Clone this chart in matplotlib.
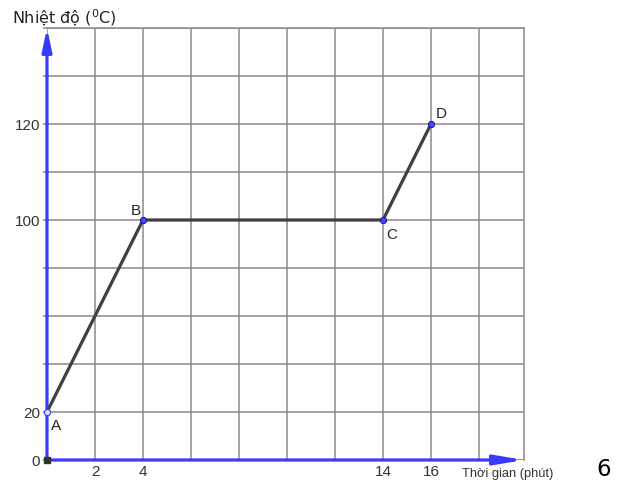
import numpy as np
import matplotlib.pyplot as plt

# heating curve points
times = [0, 4, 14, 16]
temps = [20, 100, 100, 120]
names = ['A', 'B', 'C', 'D']
label_offsets = [(9, -13), (-7, 10), (9, -14), (10, 11)]

x_ticks = [2, 4, 14, 16]
y_ticks = [0, 20, 100, 120]

# the sketch is not to scale on y: one cell for 0-20, four for 20-100, two for 100-120
scale_t = [0, 20, 100, 120, 140]
scale_g = [0, 1, 5, 7, 9]


def fwd(v):
    return np.interp(v, scale_t, scale_g)


def inv(v):
    return np.interp(v, scale_g, scale_t)


blue = '#3a3aff'
grid_col = '#8a8a8a'
sans = 'Liberation Sans'

fig = plt.figure(figsize=(6.24, 4.81), dpi=100)
ax = fig.add_axes([47 / 624, 20 / 481, 477 / 624, 432 / 481])
ax.set_yscale('function', functions=(fwd, inv))
ax.set_xlim(0, 19.875)
ax.set_ylim(0, 140)

ax.set_xticks(np.arange(0, 20, 2), minor=True)
ax.set_yticks(inv(np.arange(10)), minor=True)
ax.set_xticks(x_ticks)
ax.set_yticks(y_ticks)
for lab in ax.get_xticklabels() + ax.get_yticklabels():
    lab.set_fontfamily(sans)
ax.grid(which='both', color=grid_col, lw=1.1)
ax.tick_params(axis='x', which='both', length=0, pad=3, labelsize=11, labelcolor='#333333')
ax.tick_params(axis='y', which='both', length=3, width=1.1, color=grid_col, pad=2,
               labelsize=11, labelcolor='#333333')
ax.set_axisbelow(True)
for s in ['top', 'right']:
    ax.spines[s].set_color(grid_col)
    ax.spines[s].set_linewidth(1.1)
for s in ['left', 'bottom']:
    ax.spines[s].set_visible(False)

# axes drawn as arrows
ax.annotate('', xy=(1.0, 0), xytext=(0, 0), xycoords='axes fraction',
            arrowprops=dict(arrowstyle='-|>,head_length=0.95,head_width=0.16',
                            color=blue, lw=2.3, mutation_scale=18, shrinkA=0, shrinkB=0),
            annotation_clip=False)
ax.annotate('', xy=(0, 1.0), xytext=(0, 0), xycoords='axes fraction',
            arrowprops=dict(arrowstyle='-|>,head_length=0.75,head_width=0.16',
                            color=blue, lw=2.3, mutation_scale=18, shrinkA=0, shrinkB=0),
            annotation_clip=False)

ax.plot(times, temps, color='#404040', lw=2.3, solid_capstyle='round', zorder=3)
ax.plot(times[1:], temps[1:], 'o', ms=4.5, mfc='#4545ff', mec='#1c1c8c', mew=0.7, zorder=4)
ax.plot(times[:1], temps[:1], 'o', ms=4.5, mfc='#dcdcff', mec='#3a3aff', mew=0.8, zorder=4,
        clip_on=False)
ax.plot([0], [0], 's', ms=4.5, color='#333333', zorder=5, clip_on=False)

for t, T, n, off in zip(times, temps, names, label_offsets):
    ax.annotate(n, (t, T), xytext=off, textcoords='offset pixels', family=sans,
                ha='center', va='center', fontsize=11, color='#222222')

fig.text(12 / 624, 1 - 18 / 481, r'Nhiệt độ ($^0$C)', fontsize=11.5,
         ha='left', va='center', color='#222222')
fig.text(462 / 624, 1 - 474 / 481, 'Thời gian (phút)', fontsize=9.3, family=sans,
         ha='left', va='center', color='#333333')
fig.text(604 / 624, 1 - 470 / 481, '6', fontsize=16.5,
         ha='center', va='center', color='black')

fig.savefig('out.png', dpi=100)
